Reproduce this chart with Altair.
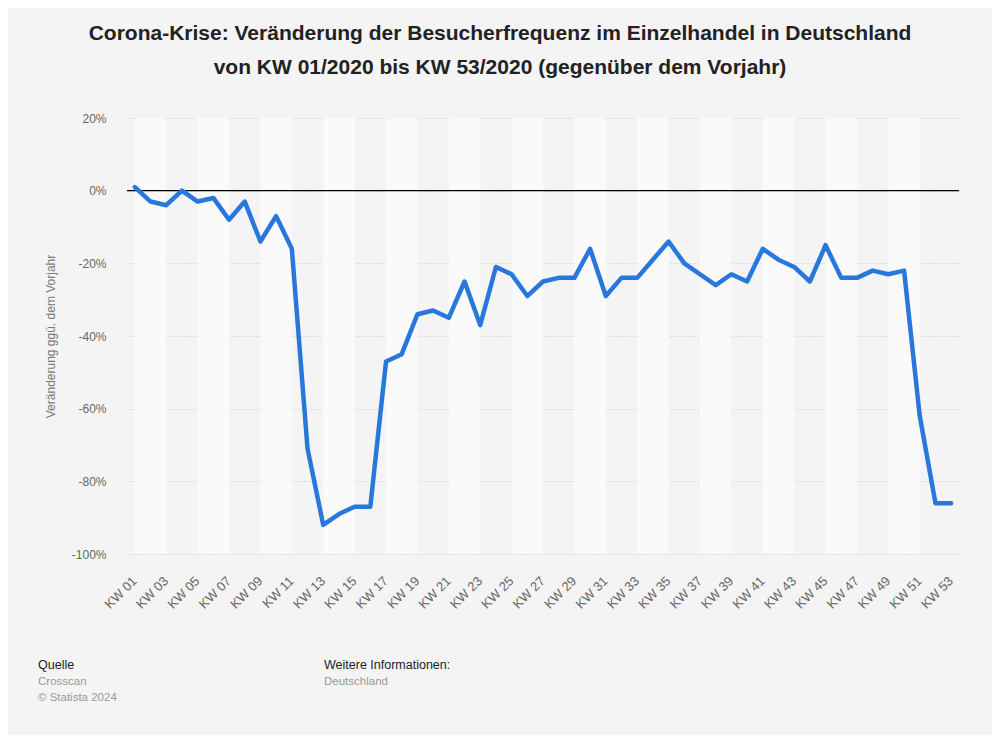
import altair as alt
import pandas as pd

# ---- data ----
weeks = list(range(1, 54))
values = [1, -3, -4, 0, -3, -2, -8, -3, -14, -7, -16, -71, -92, -89, -87, -87,
          -47, -45, -34, -33, -35, -25, -37, -21, -23, -29, -25, -24, -24, -16,
          -29, -24, -24, -19, -14, -20, -23, -26, -23, -25, -16, -19, -21, -25,
          -15, -24, -24, -22, -23, -22, -62, -86, -86]
x_tick_weeks = [1, 3, 5, 7, 9, 11, 13, 15, 17, 19, 21, 23, 25, 27, 29, 31, 33,
                35, 37, 39, 41, 43, 45, 47, 49, 51, 53]
x_tick_labels = ["KW 01", "KW 03", "KW 05", "KW 07", "KW 09", "KW 11", "KW 13",
                 "KW 15", "KW 17", "KW 19", "KW 21", "KW 23", "KW 25", "KW 27",
                 "KW 29", "KW 31", "KW 33", "KW 35", "KW 37", "KW 39", "KW 41",
                 "KW 43", "KW 45", "KW 47", "KW 49", "KW 51", "KW 53"]
y_ticks = [20, 0, -20, -40, -60, -80, -100]
band_start = [1, 5, 9, 13, 17, 21, 25, 29, 33, 37, 41, 45, 49]
band_end = [3, 7, 11, 15, 19, 23, 27, 31, 35, 39, 43, 47, 51]

title_lines = ["Corona-Krise: Veränderung der Besucherfrequenz im Einzelhandel in Deutschland",
               "von KW 01/2020 bis KW 53/2020 (gegenüber dem Vorjahr)"]
y_title = "Veränderung ggü. dem Vorjahr"
source_head = "Quelle"
source_lines = ["Crosscan", "© Statista 2024"]
info_head = "Weitere Informationen:"
info_lines = ["Deutschland"]

df = pd.DataFrame({"week": weeks, "value": values})
bands = pd.DataFrame({"week": band_start, "week_end": band_end})
xlab = pd.DataFrame({"week": x_tick_weeks, "label": x_tick_labels})

W, H = 832, 436
FONT = "Liberation Sans"

x_scale = alt.Scale(domain=[0.5, 53.5], nice=False, zero=False)
y_scale = alt.Scale(domain=[-100, 20], nice=False)

y_axis = alt.Axis(values=y_ticks, labelExpr="datum.value + '%'", labelFontSize=12,
                  labelColor="#666666", labelFont=FONT, labelPadding=21,
                  grid=True, gridColor="#c8c8c8", gridDash=[1, 2], gridWidth=1,
                  domain=False, ticks=False, title=y_title, titleFont=FONT,
                  titleFontSize=12, titleFontWeight="normal", titleColor="#777777",
                  titlePadding=14)

grid_layer = alt.Chart(df).mark_line(opacity=0).encode(
    x=alt.X("week:Q", scale=x_scale, axis=None),
    y=alt.Y("value:Q", scale=y_scale, axis=y_axis),
)

band_layer = alt.Chart(bands).mark_rect(color="#fafafa").encode(
    x=alt.X("week:Q", scale=x_scale, axis=None),
    x2="week_end:Q",
    y=alt.value(0),
    y2=alt.value(H),
)

zero_layer = alt.Chart(pd.DataFrame({"y": [0]})).mark_rule(
    color="#000000", strokeWidth=1.3).encode(y=alt.Y("y:Q", scale=y_scale))

line_layer = alt.Chart(df).mark_line(
    color="#2877dd", strokeWidth=4.5, strokeJoin="round", strokeCap="round"
).encode(
    x=alt.X("week:Q", scale=x_scale, axis=None),
    y=alt.Y("value:Q", scale=y_scale),
)

xlabel_layer = alt.Chart(xlab).mark_text(
    angle=315, align="right", baseline="middle", font=FONT, fontSize=13,
    color="#666666"
).encode(
    x=alt.X("week:Q", scale=x_scale, axis=None),
    y=alt.value(H + 25),
    text="label:N",
)


def text_layer(txt, x, y, size, color, weight="normal", align="left"):
    return alt.Chart(pd.DataFrame({"t": [txt]})).mark_text(
        font=FONT, fontSize=size, color=color, fontWeight=weight,
        align=align, baseline="middle"
    ).encode(text="t:N", x=alt.value(x), y=alt.value(y))


ox, oy = 127, 118  # plot origin on page
texts = [
    text_layer(title_lines[0], 500 - ox, 34 - oy, 21, "#222222", "bold", "center"),
    text_layer(title_lines[1], 500 - ox, 68 - oy, 21, "#222222", "bold", "center"),
    text_layer(source_head, 38 - ox, 665 - oy, 12.5, "#222222"),
    text_layer(source_lines[0], 38 - ox, 682 - oy, 11.5, "#999999"),
    text_layer(source_lines[1], 38 - ox, 698 - oy, 11.5, "#999999"),
    text_layer(info_head, 324 - ox, 665 - oy, 12.5, "#222222"),
    text_layer(info_lines[0], 324 - ox, 682 - oy, 11.5, "#999999"),
]

chart = alt.layer(grid_layer, band_layer, zero_layer, line_layer, xlabel_layer,
                  *texts).properties(
    width=W, height=H,
    autosize=alt.AutoSizeParams(type="none"),
    padding={"left": ox - 8, "top": oy - 8, "right": 984 - (ox - 8) - W,
             "bottom": 727 - (oy - 8) - H},
    background="#f4f4f4",
).configure_view(stroke=None, fill=None)

chart.save("out.html", embed_options={"renderer": "svg", "actions": False})
